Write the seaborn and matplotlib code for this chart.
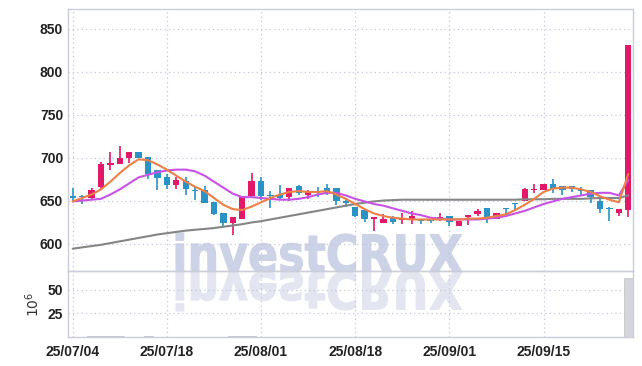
import numpy as np
import pandas as pd
import seaborn as sns
import matplotlib
matplotlib.use("Agg")
import matplotlib.pyplot as plt
from matplotlib.textpath import TextPath
from matplotlib.patches import PathPatch
from matplotlib.font_manager import FontProperties
from matplotlib.transforms import Affine2D

# trading days 2025-07-04 .. 2025-09-26 (08/15 holiday)
dates = [d for d in pd.bdate_range("2025-07-04", "2025-09-26") if d != pd.Timestamp("2025-08-15")]

opens = [655, 655, 653, 666, 691, 693, 700, 706, 701, 686,
         678, 668, 673, 662, 662, 648, 636, 624, 629, 655,
         673, 656, 657, 654, 667, 657, 661, 665, 665, 649,
         643, 639, 629, 624, 630, 627, 629, 627, 627, 629,
         632, 620, 631, 634, 641, 629, 641, 647, 650, 662,
         662, 669, 667, 667, 664, 662, 650, 641, 636, 639]
highs = [665, 657, 665, 695, 707, 713, 707, 706, 701, 686,
         681, 677, 678, 667, 667, 648, 636, 631, 655, 682,
         678, 661, 668, 665, 668, 662, 666, 669, 665, 651,
         643, 639, 630, 634, 632, 636, 638, 628, 628, 636,
         632, 626, 633, 640, 641, 636, 641, 647, 665, 669,
         669, 675, 667, 667, 666, 662, 653, 642, 640, 831]
lows = [649, 646, 652, 664, 686, 693, 694, 700, 675, 662,
        663, 664, 657, 651, 647, 633, 619, 610, 629, 655,
        651, 641, 651, 650, 656, 652, 654, 657, 645, 642,
        631, 625, 614, 624, 623, 623, 623, 623, 624, 626,
        620, 620, 622, 632, 624, 629, 634, 638, 649, 659,
        662, 659, 656, 660, 656, 647, 636, 626, 632, 631]
closes = [653, 654, 662, 692, 694, 700, 707, 700, 681, 676,
          668, 674, 664, 661, 647, 634, 624, 631, 655, 673,
          655, 655, 653, 665, 659, 661, 660, 659, 649, 647,
          632, 628, 630, 629, 625, 630, 632, 626, 626, 630,
          625, 626, 633, 638, 628, 636, 640, 646, 663, 663,
          669, 663, 662, 664, 661, 654, 640, 640, 640, 831]
volume = [0.4, 0.5, 0.6, 1.2, 1.1, 0.6, 0.5, 0.4, 1.0, 0.5,
          0.4, 0.3, 0.3, 0.3, 0.4, 0.5, 0.5, 0.6, 0.7, 1.0,
          0.5, 0.3, 0.3, 0.3, 0.3, 0.3, 0.2, 0.2, 0.3, 0.3,
          0.3, 0.3, 0.3, 0.2, 0.2, 0.2, 0.2, 0.2, 0.2, 0.2,
          0.2, 0.2, 0.2, 0.2, 0.3, 0.2, 0.2, 0.2, 0.4, 0.3,
          0.3, 0.3, 0.2, 0.2, 0.2, 0.3, 0.3, 0.3, 0.3, 63.0]

ma5 = [649, 653, 657, 663, 672, 682, 691, 698, 697, 692,
       686, 679, 672, 666, 661, 653, 645, 640, 639, 643,
       648, 653, 657, 660, 661, 660, 660, 661, 657, 652,
       646, 640, 635, 632, 630, 629, 628, 628, 628, 628,
       628, 628, 629, 629, 630, 632, 634, 639, 645, 652,
       660, 664, 665, 665, 663, 660, 655, 651, 648, 681]
ma20 = [649, 650, 651, 652, 657, 663, 670, 677, 680, 683,
        685, 686, 686, 684, 679, 672, 665, 658, 654, 654,
        653, 652, 651, 651, 652, 654, 657, 659, 659, 656,
        652, 649, 646, 644, 641, 638, 635, 633, 630, 629,
        628, 628, 628, 628, 629, 630, 632, 635, 638, 642,
        646, 649, 652, 654, 656, 658, 659, 659, 656, 674]
ma_long = [594, 595.5, 597, 598.5, 600.5, 602.5, 604.5, 606.5, 608.5, 610.5,
           612, 613.5, 615, 616, 617, 618, 619.5, 621, 622.5, 624.5,
           626, 628, 630, 632, 634, 636, 638, 640, 642, 644,
           646, 647.5, 649, 650, 650.5, 651, 651, 651, 651, 651,
           651, 651, 651, 651, 651, 651, 651, 651, 651.5, 651.5,
           651.5, 652, 652, 652, 652, 652.5, 653, 653, 653, 656]

tick_labels = ["25/07/04", "25/07/18", "25/08/01", "25/08/18", "25/09/01", "25/09/15"]
price_ticks = [600, 650, 700, 750, 800, 850]
vol_ticks = [25, 50]

UP = "#e2186a"
DOWN = "#2a93c6"
GRID = "#c3c6dc"
SPINE = "#cbcdd8"
TICKFONT = dict(fontsize=10, fontweight="bold", color="#222222")

sns.set_theme(style="white")
plt.rcParams["font.family"] = ["Liberation Sans", "DejaVu Sans"]

fig = plt.figure(figsize=(6.42, 3.66), dpi=100)
fig.patch.set_facecolor("white")
L, R = 68 / 642, 633 / 642
ax = fig.add_axes([L, 1 - 271 / 366, R - L, (271 - 9) / 366])
ax2 = fig.add_axes([L, 1 - 337 / 366, R - L, (337 - 271) / 366], sharex=ax)
for a in (ax, ax2):
    a.set_facecolor("none")
    for s in a.spines.values():
        s.set_color(SPINE)
        s.set_linewidth(1.0)

idx = np.arange(len(dates))
labels = [d.strftime("%y/%m/%d") for d in dates]
tick_pos = [labels.index(t) for t in tick_labels]

# watermark + reflection
tp = TextPath((0, 0), "investCRUX", size=50, prop=FontProperties(family="DejaVu Sans", weight="bold"))
bb = tp.get_extents()
sx = (462 - 176) / 642 / bb.width
sy = (272 - 233) / 366 / bb.y1
base = 1 - 272 / 366
wm = Affine2D().translate(-bb.x0, 0).scale(sx, sy).translate(176 / 642, base) + fig.transFigure
wm2 = Affine2D().translate(-bb.x0, 0).scale(sx, -sy).translate(176 / 642, base) + fig.transFigure
fig.patches.append(PathPatch(tp, transform=wm, facecolor="#cdd3e7", edgecolor="#cdd3e7", lw=0.8, zorder=-1))
fig.patches.append(PathPatch(tp, transform=wm2, facecolor="#e3e6f1", edgecolor="#e3e6f1", lw=0.8, zorder=-1))

# candles
o = np.array(opens, float)
c = np.array(closes, float)
cols = [UP if cc >= oo else DOWN for oo, cc in zip(o, c)]
body_lo = np.minimum(o, c)
body_h = np.maximum(np.abs(c - o), 1.6)
ax.vlines(idx, lows, highs, colors=cols, lw=1.2, zorder=3)
ax.bar(idx, body_h, bottom=body_lo, width=0.68, color=cols, lw=0, zorder=4)

sns.lineplot(x=idx, y=ma_long, ax=ax, color="#858585", lw=1.5, zorder=5)
sns.lineplot(x=idx, y=ma20, ax=ax, color="#c852e6", lw=1.5, zorder=5)
sns.lineplot(x=idx, y=ma5, ax=ax, color="#ee7f45", lw=1.5, zorder=6)

ax.set_xlim(-0.5, len(idx) - 0.5)
ax.set_ylim(568, 873)
ax.set_yticks(price_ticks)
ax.set_yticklabels([str(v) for v in price_ticks], **TICKFONT)
ax.set_xticks(tick_pos)
ax.tick_params(axis="x", labelbottom=False, length=0)
ax.tick_params(axis="y", length=0, pad=3.5)
ax.grid(True, color=GRID, ls=(0, (1, 2.5)), lw=0.9)
ax.set_xlabel("")
ax.set_ylabel("")

ax2.bar(idx, volume, width=0.95, color="#d4d4dc", edgecolor="#c4c4cc", lw=0.6, zorder=3)
ax2.set_ylim(0, 70)
ax2.set_yticks(vol_ticks)
ax2.set_yticklabels([str(v) for v in vol_ticks], **TICKFONT)
ax2.set_xticks(tick_pos)
ax2.set_xticklabels(tick_labels, **TICKFONT)
ax2.tick_params(axis="both", length=0)
ax2.tick_params(axis="y", pad=3.5)
ax2.tick_params(axis="x", pad=5.5)
ax2.grid(True, color=GRID, ls=(0, (1, 2.5)), lw=0.9)
ax2.set_ylabel(r"$10^6$", fontsize=10, color="#333333", labelpad=4)

fig.savefig("out.png", dpi=100)
